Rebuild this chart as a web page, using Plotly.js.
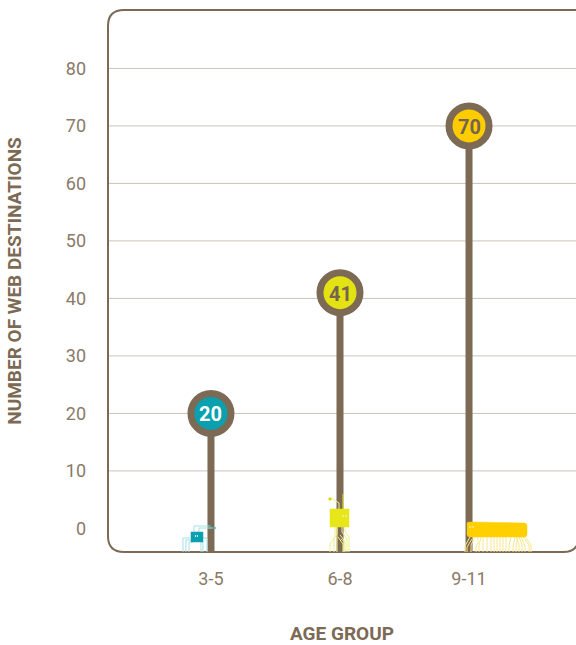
<!DOCTYPE html>
<html>
<head>
<meta charset="utf-8">
<script src="https://cdn.plot.ly/plotly-3.0.1.min.js"></script>
<style>html,body{margin:0;padding:0;background:#fff;overflow:hidden}</style>
</head>
<body>
<div id="chart" style="width:576px;height:645px"></div>
<script>
// Web destinations available per age group
const ageGroups = ['3-5', '6-8', '9-11'];
const destinations = [20, 41, 70];
const discColors = ['#0aa0b0', '#e3e313', '#ffcc00'];
const labelColors = ['#ffffff', '#76644f', '#76644f'];
const yTicks = [0, 10, 20, 30, 40, 50, 60, 70, 80];
const gridValues = [10, 20, 30, 40, 50, 60, 70, 80];
const yFloor = -4.1;
const yCeil = 90.16;

const BROWN = '#7c6a55';
const TEXT = '#8a7a68';
const W = 468, H = 542;

// Stems run from the floor of the frame up to each value
const stemX = [], stemY = [];
ageGroups.forEach((g, i) => {
  stemX.push(g, g, null);
  stemY.push(yFloor, destinations[i], null);
});

const traces = [
  {
    type: 'scatter', mode: 'lines', x: stemX, y: stemY,
    line: {color: BROWN, width: 7}, hoverinfo: 'skip', showlegend: false, cliponaxis: false
  },
  {
    type: 'scatter', mode: 'markers', x: ageGroups, y: destinations,
    marker: {size: 40, color: discColors, line: {color: BROWN, width: 7}},
    showlegend: false, cliponaxis: false
  }
];

// Value printed inside each disc
const annotations = ageGroups.map((g, i) => ({
  xref: 'x', yref: 'y', x: g, y: destinations[i], text: String(destinations[i]),
  showarrow: false, xanchor: 'center', yanchor: 'middle', yshift: -1,
  font: {family: 'Roboto', size: 20, weight: 700, color: labelColors[i]}
}));

const shapes = [];

// Horizontal rules behind the stems
gridValues.forEach(v => shapes.push({
  type: 'line', layer: 'below', xref: 'paper', yref: 'y', x0: 0, x1: 1, y0: v, y1: v,
  line: {color: '#c9c4b8', width: 1}
}));

// Rounded frame, open on the right edge
const px = x => (x - 108) / W;
const py = y => (552 - y) / H;
const frame = [
  'M', px(580), py(10), 'L', px(124), py(10),
  'Q', px(108), py(10), px(108), py(26),
  'L', px(108), py(536),
  'Q', px(108), py(552), px(124), py(552),
  'L', px(563), py(552),
  'Q', px(579), py(552), px(579), py(536)
].join(' ');
shapes.push({type: 'path', layer: 'above', xref: 'paper', yref: 'paper', path: frame,
  line: {color: BROWN, width: 2}});

// Small robots standing at the foot of each stem; paths are in pixels from the foot
function robotPart(group, path, lineColor, width, fill) {
  shapes.push({
    type: 'path', layer: 'above', xref: 'x', yref: 'y',
    xsizemode: 'pixel', ysizemode: 'pixel', xanchor: group, yanchor: yFloor,
    path: path, line: {color: lineColor, width: width}, fillcolor: fill || 'rgba(0,0,0,0)'
  });
}

// Robot for ages 3-5
const tealLeg = '#a6dfe2';
['M -28 0 L -28 14 L -21 14', 'M -25 0 L -25 12 L -20 12', 'M -22 0 L -22 10 L -18 10',
 'M -10 0 L -10 10', 'M -8 0 L -8 11 L -11 14 ', 'M -4 0 L -4 14 L -9 14',
 'M -17 20 L -17 26 L 0 26', 'M -12 20 L -12 24 L 5 24'].forEach(p => robotPart('3-5', p, tealLeg, 1));
robotPart('3-5', 'M 0 26 L -2 26', '#0aa0b0', 1);
robotPart('3-5', 'M 5 24 L 1 24', '#0aa0b0', 1);
robotPart('3-5', 'M -20 10 L -8 10 L -8 20 L -20 20 Z', '#0aa0b0', 0.5, '#0aa0b0');
robotPart('3-5', 'M -15.5 17 L -15.5 15', '#d8f2f2', 1);
robotPart('3-5', 'M -13.5 17 L -13.5 15', '#d8f2f2', 1);

// Robot for ages 6-8
const limeLeg = '#f0f08a';
['M -10 0 L -10 8 L -5 15 L -5 25', 'M -6 0 L -6 14 L -3 18 L -3 25', 'M -3 0 L -3 25',
 'M 3 0 L 3 8 L -2 15 ', 'M 4 0 L 4 12 L 0 17', 'M 7 0 L 7 13 L 2 20 L 2 25',
 'M 9 0 L 9 15 L 5 20 L 5 25', 'M 5 0 L 5 10 L 1 13', 'M -1 43 L -1 49 L -9 54'].forEach(p => robotPart('6-8', p, limeLeg, 1));
robotPart('6-8', 'M 3 43 L 3 58', '#e3e313', 1);
robotPart('6-8', 'M -11 54 L -9 54 L -9 52 L -11 52 Z', '#d6d600', 1, '#e3e313');
robotPart('6-8', 'M -10 25 L 9 25 L 9 43 L -10 43 Z', '#e6e619', 0.5, '#e6e619');
robotPart('6-8', 'M 2 36 L 4 36', '#fbfbc8', 1);
robotPart('6-8', 'M 5 36 L 7 36', '#fbfbc8', 1);

// Robot for ages 9-11
const goldLeg = '#fbe78a';
['M -4 0 L -4 6 L 1 15', 'M -2 0 L -2 5 L 3 13', 'M 2 0 L 2 7 L 6 15', 'M 7 0 L 7 5 L 9 9 L 9 15',
 'M 10 0 L 10 6 L 12 15', 'M 14 0 L 14 15', 'M 18 0 L 18 15', 'M 22 0 L 22 15', 'M 25 0 L 25 15',
 'M 28 0 L 28 15', 'M 31 0 L 31 15', 'M 34 0 L 34 15', 'M 37 0 L 37 15', 'M 40 0 L 40 7 L 42 15',
 'M 44 0 L 44 6 L 46 15', 'M 47 0 L 47 6 L 49 15', 'M 50 0 L 50 8 L 47 15', 'M 53 0 L 53 7 L 50 15',
 'M 56 0 L 56 6 L 52 15', 'M 60 0 L 60 7 L 54 15', 'M 62 0 L 62 7 L 56 15'].forEach(p => robotPart('9-11', p, goldLeg, 1));
robotPart('9-11', 'M -2 29 Q -2 30 1 30 L 55 29 Q 58 29 58 26 L 58 18 Q 58 15 55 15 L 1 15 Q -2 15 -2 18 Z',
  '#ffcf00', 0.5, '#ffcf00');
robotPart('9-11', 'M 0 25 L 2 25', '#fff4b8', 1);
robotPart('9-11', 'M 3 25 L 5 25', '#fff4b8', 1);

const layout = {
  width: 576, height: 645,
  margin: {l: 108, r: 0, t: 10, b: 93},
  paper_bgcolor: '#ffffff', plot_bgcolor: '#ffffff',
  font: {family: 'Roboto', color: TEXT},
  showlegend: false,
  xaxis: {
    type: 'category', categoryorder: 'array', categoryarray: ageGroups,
    range: [-0.798, 2.829], showgrid: false, zeroline: false, showline: false,
    ticks: '', ticklabelstandoff: 14, tickfont: {family: 'Roboto', size: 18, color: TEXT},
    title: {text: 'AGE GROUP', standoff: 44, font: {family: 'Roboto', size: 19, weight: 700, color: BROWN}}
  },
  yaxis: {
    range: [yFloor, yCeil], tickvals: yTicks, ticktext: yTicks.map(String),
    showgrid: false, zeroline: false, showline: false,
    ticks: '', ticklabelstandoff: 21, tickfont: {family: 'Roboto', size: 18, color: TEXT},
    title: {text: 'NUMBER OF WEB DESTINATIONS', standoff: 39, font: {family: 'Roboto', size: 19, weight: 700, color: BROWN}}
  },
  annotations: annotations,
  shapes: shapes
};

Plotly.newPlot('chart', traces, layout, {displayModeBar: false, staticPlot: true});
</script>
</body>
</html>
